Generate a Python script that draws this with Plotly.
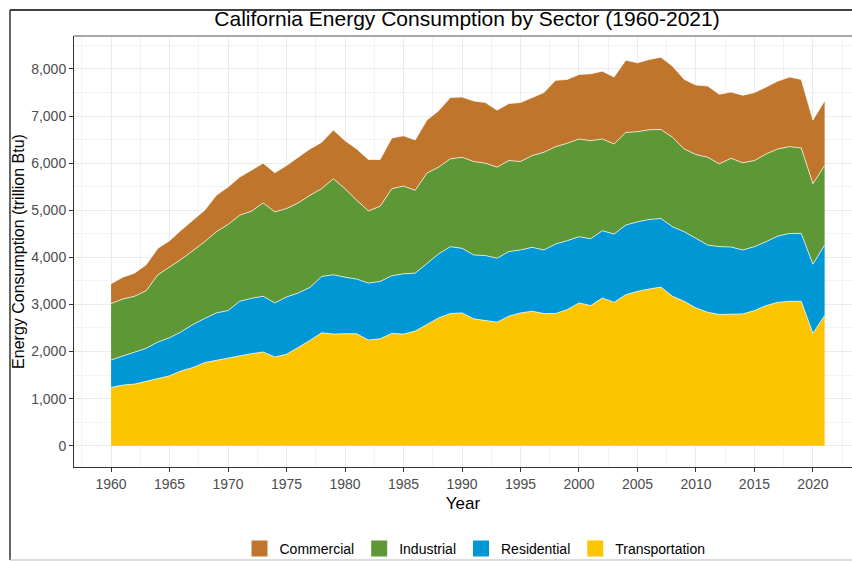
import plotly.graph_objects as go

years = list(range(1960, 2022))

transportation = [1238, 1287, 1308, 1364, 1428, 1484, 1589, 1660, 1765, 1814,
                  1857, 1906, 1955, 1990, 1885, 1941, 2082, 2236, 2398, 2370,
                  2377, 2377, 2243, 2271, 2384, 2370, 2433, 2574, 2714, 2806,
                  2820, 2693, 2665, 2623, 2750, 2820, 2855, 2806, 2806, 2890,
                  3031, 2975, 3136, 3045, 3207, 3277, 3327, 3368, 3172, 3066,
                  2925, 2834, 2785, 2785, 2799, 2869, 2975, 3045, 3066, 3066,
                  2384, 2764]
residential = [583, 619, 682, 704, 773, 809, 830, 914, 935, 1006,
               1012, 1160, 1174, 1182, 1146, 1217, 1160, 1125, 1196, 1259,
               1202, 1160, 1210, 1217, 1224, 1280, 1231, 1301, 1358, 1420,
               1371, 1358, 1372, 1357, 1371, 1336, 1357, 1350, 1476, 1463,
               1406, 1420, 1428, 1449, 1477, 1477, 1476, 1456, 1476, 1477,
               1477, 1428, 1441, 1434, 1357, 1357, 1357, 1406, 1441, 1441,
               1470, 1498]
industrial = [1196, 1209, 1182, 1223, 1428, 1497, 1540, 1568, 1632, 1723,
              1829, 1829, 1850, 1983, 1934, 1877, 1913, 1955, 1863, 2039,
              1878, 1674, 1533, 1596, 1849, 1863, 1758, 1913, 1842, 1864,
              1934, 1983, 1962, 1934, 1934, 1878, 1948, 2074, 2068, 2068,
              2075, 2082, 1948, 1912, 1968, 1913, 1906, 1892, 1899, 1758,
              1779, 1863, 1758, 1885, 1850, 1829, 1863, 1850, 1843, 1815,
              1709, 1687]
commercial = [422, 464, 492, 549, 562, 563, 619, 647, 668, 773,
              794, 808, 865, 844, 830, 914, 970, 985, 985, 1034,
              1020, 1090, 1090, 992, 1076, 1069, 1069, 1125, 1196, 1301,
              1280, 1287, 1287, 1210, 1209, 1252, 1231, 1267, 1407, 1357,
              1371, 1420, 1441, 1421, 1534, 1462, 1491, 1533, 1512, 1477,
              1477, 1512, 1477, 1406, 1434, 1442, 1421, 1441, 1477, 1456,
              1350, 1372]

sectors = ["Transportation", "Residential", "Industrial", "Commercial"]
values = [transportation, residential, industrial, commercial]
colors = {"Commercial": "#BF752C", "Industrial": "#5E9836",
          "Residential": "#0097D6", "Transportation": "#FDC500"}

W, H = 852, 561
L, R, T, B = 74, 0, 36, 94


def px(x):
    return (x - L) / (W - L - R)


def py(y):
    return (H - B - y) / (H - T - B)


fig = go.Figure()
for name, vals in zip(sectors, values):
    fig.add_trace(go.Scatter(x=years, y=vals, name=name, mode="lines",
                             stackgroup="one", fillcolor=colors[name],
                             line=dict(color="white", width=0.7),
                             showlegend=False, hoverinfo="x+y+name"))

# legend keys as squares, in ggplot order
for name in ["Commercial", "Industrial", "Residential", "Transportation"]:
    fig.add_trace(go.Scatter(x=[None], y=[None], mode="markers", name=name,
                             marker=dict(symbol="square", size=20,
                                         color=colors[name])))

font = "Arial, Liberation Sans, sans-serif"
axis_common = dict(showgrid=True, gridcolor="#ebebeb", gridwidth=1,
                   zeroline=False, showline=True, linecolor="#333333",
                   linewidth=1, ticks="outside", ticklen=4,
                   tickcolor="#333333", tickfont=dict(size=14, color="#4d4d4d"),
                   automargin=False)

fig.update_xaxes(range=[1956.83, 2023.34], tick0=1960, dtick=5,
                 minor=dict(dtick=2.5, tick0=1960, showgrid=True,
                            gridcolor="#f3f3f3", gridwidth=1, ticks=""),
                 title=dict(text="Year", font=dict(size=17, color="black"),
                            standoff=6),
                 **axis_common)
fig.update_yaxes(range=[-452, 8699], tick0=0, dtick=1000, tickformat=",",
                 minor=dict(dtick=500, tick0=0, showgrid=True,
                            gridcolor="#f3f3f3", gridwidth=1, ticks=""),
                 title=dict(text="Energy Consumption (trillion Btu)",
                            font=dict(size=16, color="black"), standoff=2),
                 **axis_common)

shapes = [
    # panel border top (grey)
    dict(type="line", xref="paper", yref="paper", x0=0, x1=1, y0=1, y1=1,
         line=dict(color="#8c8c8c", width=1.5)),
    # outer frame
    dict(type="line", xref="paper", yref="paper", x0=px(10), x1=px(W),
         y0=py(10), y1=py(10), line=dict(color="black", width=1.5)),
    dict(type="line", xref="paper", yref="paper", x0=px(10), x1=px(10),
         y0=py(10), y1=py(560), line=dict(color="#333333", width=1.5)),
    dict(type="line", xref="paper", yref="paper", x0=px(10), x1=px(W),
         y0=py(560), y1=py(560), line=dict(color="#bbbbbb", width=1)),
]

fig.update_layout(
    width=W, height=H,
    margin=dict(l=L, r=R, t=T, b=B),
    paper_bgcolor="white", plot_bgcolor="white",
    font=dict(family=font, size=14, color="black"),
    title=dict(text="California Energy Consumption by Sector (1960-2021)",
               x=px(467), xref="paper", xanchor="center",
               y=1 - 19 / H, yref="container", yanchor="middle",
               font=dict(size=21, color="black")),
    legend=dict(orientation="h", x=px(475), xanchor="center",
                y=1 - 549 / H, yref="container", yanchor="middle",
                font=dict(size=14), itemsizing="trace", traceorder="normal",
                bgcolor="rgba(0,0,0,0)"),
    shapes=shapes,
)

# drop the default page margin so the figure sits at the window's corner
fig.write_html("out.html", config={"displayModeBar": False},
               post_script="document.body.style.margin='0';")
